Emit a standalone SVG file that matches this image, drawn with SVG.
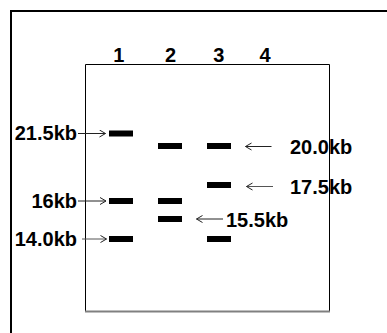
<svg xmlns="http://www.w3.org/2000/svg" width="387" height="333" viewBox="0 0 387 333">
<style>
text{font-family:"Liberation Sans",Arial,sans-serif;font-weight:bold;font-size:20px;fill:#000}
.band{fill:#000}
.arr{stroke:#222;stroke-width:1;fill:none;marker-end:url(#ah)}
</style>
<defs>
<marker id="ah" markerUnits="userSpaceOnUse" markerWidth="10" markerHeight="10" refX="7" refY="4" orient="auto">
<path d="M1,0.5 L7,4 L1,7.5" fill="none" stroke="#222" stroke-width="1"/>
</marker>
</defs>
<rect width="387" height="333" fill="#fff"/>
<g id="frame">
<path d="M11,333 V11 H387" fill="none" stroke="#000" stroke-width="2"/>
</g>
<g id="gel">
<path d="M85.5,311 V64.5 H329.5 V311" fill="none" stroke="#000" stroke-width="1"/>
<path d="M85,311.5 H330" fill="none" stroke="#808080" stroke-width="2"/>
</g>
<g id="lanes">
<text x="118.7" y="62" text-anchor="middle">1</text>
<text x="170.5" y="62" text-anchor="middle">2</text>
<text x="218.7" y="62" text-anchor="middle">3</text>
<text x="265" y="62" text-anchor="middle">4</text>
</g>
<g id="bands">
<rect class="band" x="109" y="130.5" width="24" height="6"/>
<rect class="band" x="109" y="198" width="24" height="6"/>
<rect class="band" x="109" y="236" width="24" height="6"/>
<rect class="band" x="158" y="143" width="24" height="6"/>
<rect class="band" x="158" y="198" width="24" height="6"/>
<rect class="band" x="158" y="216" width="24" height="6"/>
<rect class="band" x="207" y="143" width="24" height="6"/>
<rect class="band" x="207" y="182" width="24" height="6"/>
<rect class="band" x="207" y="236" width="24" height="6"/>
</g>
<g id="labels">
<text x="77" y="139.5" text-anchor="end">21.5kb</text>
<text x="77" y="208" text-anchor="end">16kb</text>
<text x="77" y="246" text-anchor="end">14.0kb</text>
<text x="290" y="153.5">20.0kb</text>
<text x="290" y="193.5">17.5kb</text>
<text x="226" y="226.5">15.5kb</text>
</g>
<g id="connectors">
<path class="arr" d="M78,133.5 H105.5"/>
<path class="arr" d="M78,201 H106"/>
<path class="arr" d="M82,239 H106.5" style="stroke:#555"/>
<path class="arr" d="M271.5,146.5 H245.5"/>
<path class="arr" d="M273,186.5 H246.5" style="stroke:#555"/>
<path class="arr" d="M223,219 H196.5"/>
</g>
</svg>
